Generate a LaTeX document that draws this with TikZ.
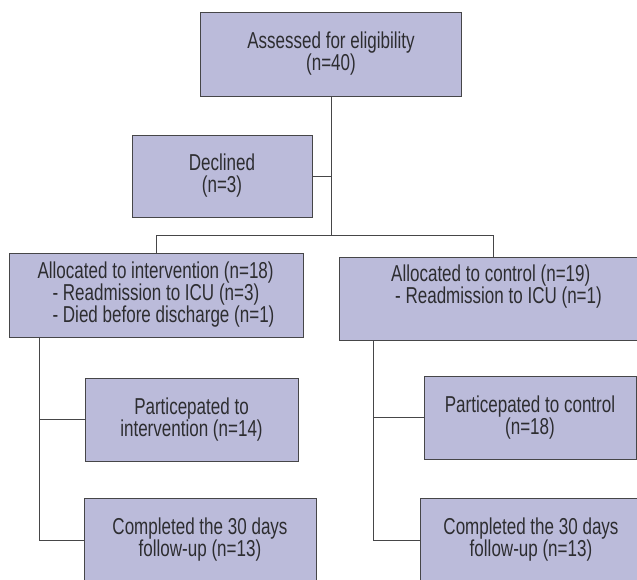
\documentclass[tikz,border=0pt]{standalone}
\usepackage{fontspec}
\setmainfont{Liberation Sans}[FakeStretch=0.74]
\usepackage{tikz}
\usetikzlibrary{positioning}

\definecolor{boxfill}{RGB}{187,187,218}
\definecolor{boxline}{RGB}{70,70,72}
\definecolor{txtgray}{RGB}{45,45,48}

\tikzset{
    flowbox/.style={draw=boxline, line width=0.9pt, fill=boxfill, text=txtgray, align=center,
        inner sep=0pt, font=\fontsize{23}{22}\selectfont},
    link/.style={draw=boxline, line width=0.9pt}
}

\begin{document}
\begin{tikzpicture}[x=1pt, y=-1pt]
        \useasboundingbox (0,0) rectangle (637,579);
        \fill[white] (0,0) rectangle (637,579);
        \clip (0,0) rectangle (637,579);

        \node[flowbox, minimum width=261, minimum height=84] (assess) at (331,54) {Assessed for eligibility\\(n=40)};
        \node[flowbox, minimum width=180, minimum height=82] (declined) at (222,176) {Declined\\(n=3)};

        \node[flowbox, minimum width=294, minimum height=84, align=left] (interv) at (156,295) {Allocated to intervention (n=18)\\\hspace*{15pt}- Readmission to ICU (n=3)\\\hspace*{15pt}- Died before discharge (n=1)};
        \node[flowbox, minimum width=309, minimum height=83, align=left] (control) at (493.5,298.5) {\hspace*{6pt}Allocated to control (n=19)\\\hspace*{10pt}- Readmission to ICU (n=1)\\ \strut};

        \node[flowbox, minimum width=213, minimum height=83] (partint) at (191.5,419.5) {Particepated to\\intervention (n=14)};
        \node[flowbox, minimum width=232, minimum height=84] (compint) at (200,540) {Completed the 30 days\\follow-up (n=13)};
        \node[flowbox, minimum width=212, minimum height=83] (partctl) at (530,417.5) {Particepated to control\\(n=18)};
        \node[flowbox, minimum width=222, minimum height=84] (compctl) at (531,540) {Completed the 30 days\\follow-up (n=13)};

        \path (assess.south) ++(0,139) coordinate (split);
        \path (interv.south west) ++(31,0) coordinate (intrunk);
        \path (control.south west) ++(35,0) coordinate (ctltrunk);

        \draw[link] (assess.south) -- (split);
        \draw[link] (declined.east) -- (declined.east -| split);
        \draw[link] (interv.north) |- (split) -| (control.north);

        \draw[link] (intrunk) |- (partint.west);
        \draw[link] (intrunk) |- (compint.west);
        \draw[link] (ctltrunk) |- (partctl.west);
        \draw[link] (ctltrunk) |- (compctl.west);
\end{tikzpicture}
\end{document}
